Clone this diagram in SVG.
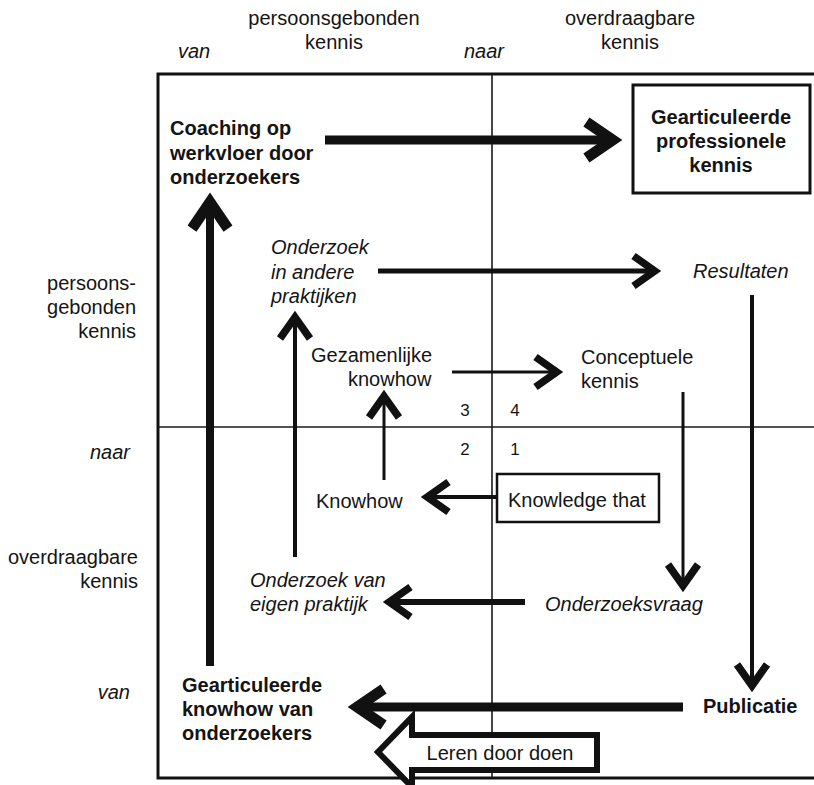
<svg xmlns="http://www.w3.org/2000/svg" width="814" height="785" viewBox="0 0 814 785">
<style>
text{font-family:"Liberation Sans",Arial,Helvetica,sans-serif;font-size:20px;fill:#141414}
.it{font-style:italic}
.b{font-weight:bold}
.m{text-anchor:middle}
.e{text-anchor:end}
.num{font-size:17px;text-anchor:middle}
.grid{stroke:#1a1a1a;stroke-width:1.6;fill:none}
.frame{stroke:#111;stroke-width:3;fill:none}
.box{stroke:#111;fill:#fff}
.c{stroke:#111;fill:none}
.big{stroke-width:9;marker-end:url(#hb)}
.mid{marker-end:url(#hm)}
</style>
<defs>
<marker id="hb" markerUnits="userSpaceOnUse" markerWidth="60" markerHeight="60" viewBox="-40 -25 50 50" refX="-12" refY="0" orient="auto" overflow="visible">
<path d="M-30,-15 L-8,0 L-30,15" fill="none" stroke="#111" stroke-width="9" stroke-linejoin="miter"/>
</marker>
<marker id="hm" markerUnits="userSpaceOnUse" markerWidth="50" markerHeight="50" viewBox="-30 -20 40 40" refX="-8" refY="0" orient="auto" overflow="visible">
<path d="M-22,-12 L-5,0 L-22,12" fill="none" stroke="#111" stroke-width="6" stroke-linejoin="miter"/>
</marker>
</defs>
<rect width="814" height="785" fill="#fff"/>

<g id="axes">
<text class="m" x="334" y="25">persoonsgebonden</text>
<text class="m" x="334" y="49">kennis</text>
<text class="m" x="630" y="25">overdraagbare</text>
<text class="m" x="630" y="49">kennis</text>
<text class="it" x="178" y="58">van</text>
<text class="it" x="464" y="58">naar</text>
<text class="e" x="136" y="290">persoons-</text>
<text class="e" x="136" y="314">gebonden</text>
<text class="e" x="136" y="338">kennis</text>
<text class="e it" x="130" y="459">naar</text>
<text class="e" x="138" y="564">overdraagbare</text>
<text class="e" x="138" y="588">kennis</text>
<text class="e it" x="130" y="699">van</text>
<rect class="frame" x="158" y="74" width="670" height="704"/>
<line class="grid" x1="492" y1="74" x2="492" y2="778"/>
<line class="grid" x1="158" y1="427" x2="814" y2="427"/>
<text class="num" x="465" y="416">3</text>
<text class="num" x="515" y="416">4</text>
<text class="num" x="465" y="455">2</text>
<text class="num" x="515" y="455">1</text>
</g>

<g id="connectors">
<path class="c big" d="M325,140 H608"/>
<path class="c" stroke-width="8" marker-end="url(#hb)" d="M210,666 V207"/>
<path class="c big" d="M683,707 H362"/>
<path class="c mid" stroke-width="5" d="M378,271 H651"/>
<path class="c mid" stroke-width="4" d="M295,557 V321"/>
<path class="c mid" stroke-width="3" d="M452,372 H553"/>
<path class="c mid" stroke-width="3" d="M384,480 V400"/>
<path class="c mid" stroke-width="4" d="M497,497 H431"/>
<path class="c mid" stroke-width="3" d="M683,392 V582"/>
<path class="c mid" stroke-width="4" d="M752,295 V682"/>
<path class="c mid" stroke-width="6" d="M525,602 H393"/>
</g>

<g id="coaching">
<text class="b" x="170" y="135">Coaching op</text>
<text class="b" x="170" y="160">werkvloer door</text>
<text class="b" x="170" y="184">onderzoekers</text>
</g>
<g id="gearticuleerde-professionele-kennis">
<rect class="box" x="633" y="85" width="177" height="108" stroke-width="3"/>
<text class="b m" x="721" y="124">Gearticuleerde</text>
<text class="b m" x="721" y="148">professionele</text>
<text class="b m" x="721" y="172">kennis</text>
</g>
<g id="onderzoek-andere">
<text class="it" x="271" y="254">Onderzoek</text>
<text class="it" x="271" y="279">in andere</text>
<text class="it" x="271" y="303">praktijken</text>
</g>
<g id="resultaten">
<text class="it" x="693" y="278">Resultaten</text>
</g>
<g id="gezamenlijke-knowhow">
<text x="311" y="362">Gezamenlijke</text>
<text x="348" y="386">knowhow</text>
</g>
<g id="conceptuele-kennis">
<text x="581" y="364">Conceptuele</text>
<text x="581" y="388">kennis</text>
</g>
<g id="knowhow">
<text x="316" y="508">Knowhow</text>
</g>
<g id="knowledge-that">
<rect class="box" x="497" y="474" width="162" height="48" stroke-width="2.5"/>
<text x="508" y="507">Knowledge that</text>
</g>
<g id="onderzoek-eigen">
<text class="it" x="250" y="587">Onderzoek van</text>
<text class="it" x="250" y="611">eigen praktijk</text>
</g>
<g id="onderzoeksvraag">
<text class="it" x="545" y="611">Onderzoeksvraag</text>
</g>
<g id="gearticuleerde-knowhow">
<text class="b" x="182" y="692">Gearticuleerde</text>
<text class="b" x="182" y="716">knowhow van</text>
<text class="b" x="182" y="740">onderzoekers</text>
</g>
<g id="publicatie">
<text class="b" x="703" y="713">Publicatie</text>
</g>
<g id="leren-door-doen">
<polygon points="597,735 412,735 412,717 378,752 412,787 412,770 597,770" fill="#fff" stroke="#111" stroke-width="6" stroke-linejoin="miter"/>
<text class="m" x="500" y="760">Leren door doen</text>
</g>
</svg>
